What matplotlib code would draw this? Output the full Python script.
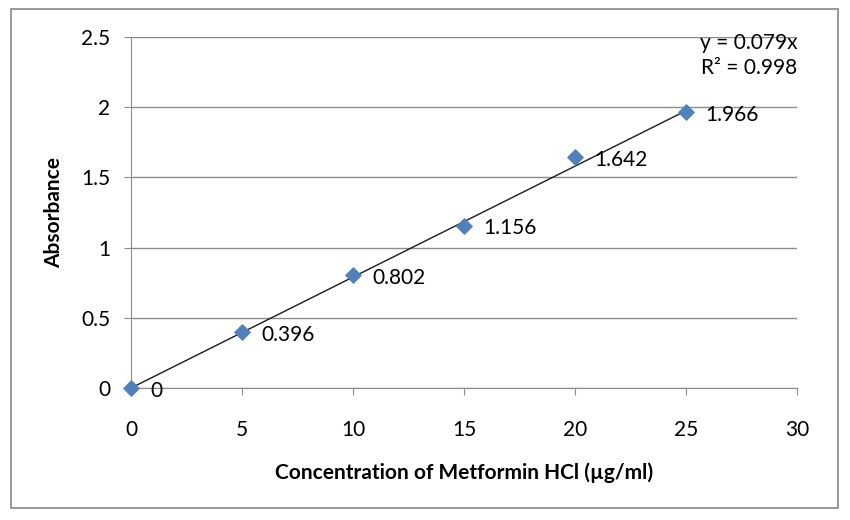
import matplotlib.pyplot as plt
import numpy as np

plt.rcParams['font.family'] = ['Lato', 'DejaVu Sans']

concentration = [0, 5, 10, 15, 20, 25]
absorbance = [0, 0.396, 0.802, 1.156, 1.642, 1.966]
point_labels = ['0', '0.396', '0.802', '1.156', '1.642', '1.966']
slope = 0.079
r_squared = 0.998

fig = plt.figure(figsize=(8.5, 5.2), dpi=100)
ax = fig.add_axes([131 / 850, 1 - 388 / 520, (797 - 131) / 850, (388 - 37) / 520])

# outer chart border
fig.patches.append(plt.Rectangle((11 / 850, 1 - 508 / 520), (838 - 11) / 850, (508 - 9) / 520,
                                 transform=fig.transFigure, fill=False, edgecolor='#888888', lw=1.2))

# linear trendline through origin
xs = np.array([concentration[0], concentration[-1]])
ax.plot(xs, slope * xs, color='#1a1a1a', lw=1, zorder=2)
ax.scatter(concentration, absorbance, marker='D', s=60, color='#4F81BD', zorder=3, clip_on=False)

for x, y, lab in zip(concentration, absorbance, point_labels):
    ax.annotate(lab, (x, y), xytext=(14, -2), textcoords='offset points',
                va='center', ha='left', fontsize=15)

ax.text(1.0, 1.01, f'y = {slope}x\nR² = {r_squared}', transform=ax.transAxes,
        ha='right', va='top', fontsize=15, linespacing=1.3)

ax.set_xlim(0, 30)
ax.set_ylim(0, 2.5)
ax.set_xticks(np.arange(0, 31, 5))
ax.set_yticks(np.arange(0, 2.51, 0.5))
ax.set_yticklabels(['0', '0.5', '1', '1.5', '2', '2.5'])
ax.grid(axis='y', color='#8c8c8c', lw=1)
ax.set_axisbelow(True)
for s in ['top', 'right']:
    ax.spines[s].set_visible(False)
for s in ['left', 'bottom']:
    ax.spines[s].set_color('#8c8c8c')
ax.tick_params(axis='both', colors='#8c8c8c', labelcolor='black', labelsize=15, length=5, direction='out')
ax.tick_params(axis='x', pad=18)
ax.tick_params(axis='y', pad=10)

ax.set_xlabel('Concentration of Metformin HCl (µg/ml)', fontsize=15, fontweight='bold', labelpad=16)
ax.set_ylabel('Absorbance', fontsize=15, fontweight='bold', labelpad=12)

fig.savefig('out.png', dpi=100)
